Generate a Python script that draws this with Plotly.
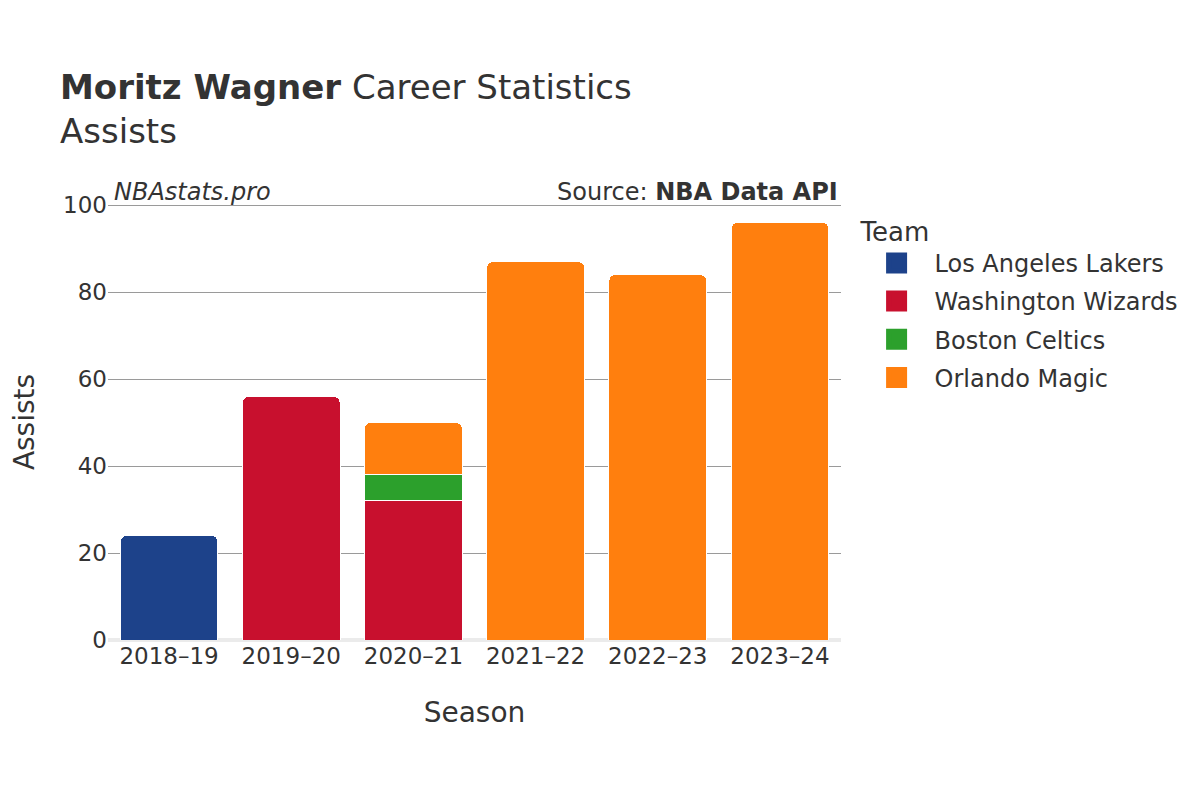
import plotly.graph_objects as go

seasons = ["2018–19", "2019–20", "2020–21", "2021–22", "2022–23", "2023–24"]
teams = ["Los Angeles Lakers", "Washington Wizards", "Boston Celtics", "Orlando Magic"]
colors = ["#1D428A", "#C8102E", "#2CA02C", "#FF7F0E"]
lakers = [24, None, None, None, None, None]
wizards = [None, 56, 32, None, None, None]
celtics = [None, None, 6, None, None, None]
magic = [None, None, 12, 87, 84, 96]
series = [lakers, wizards, celtics, magic]
y_ticks = [0, 20, 40, 60, 80, 100]

FONT = "DejaVu Sans"
TXT = "#333333"

fig = go.Figure()
for name, vals, col in zip(teams, series, colors):
    fig.add_trace(go.Bar(
        x=seasons, y=vals, name=name, marker=dict(color=col, line=dict(color="white", width=1)),
        showlegend=False, legendgroup=name,
    ))
for name, col in zip(teams, colors):
    fig.add_trace(go.Scatter(
        x=[None], y=[None], mode="markers", name=name, legendgroup=name,
        marker=dict(symbol="square", size=16, color=col, line=dict(color=col, width=5)),
    ))

fig.update_layout(
    width=1200, height=800,
    barmode="stack", bargap=0.2, barcornerradius=6,
    plot_bgcolor="white", paper_bgcolor="white",
    margin=dict(l=100, r=367, t=196, b=168),
    font=dict(family=FONT, color=TXT, size=23),
    title=dict(
        text="<b>Moritz Wagner</b> Career Statistics<br>Assists",
        x=52/1200, xanchor="left", xref="container",
        y=1-91/800, yanchor="top", yref="container",
        font=dict(family=FONT, size=34, color=TXT),
    ),
    xaxis=dict(
        title=dict(text="Season", font=dict(size=28), standoff=34),
        tickfont=dict(size=23), showgrid=False, ticks="", automargin=False,
    ),
    yaxis=dict(
        title=dict(text="Assists", font=dict(size=28), standoff=32),
        range=[0, 100.25], tickvals=y_ticks, tickfont=dict(size=23),
        showgrid=True, gridcolor="#9a9a9a", gridwidth=1,
        ticks="", automargin=False,
        zeroline=True, zerolinecolor="#ebebeb", zerolinewidth=4,
    ),
    legend=dict(
        title=dict(text="Team", font=dict(size=26)),
        font=dict(size=24), x=1.024, xanchor="left", y=1 - 3/436, yanchor="top",
        itemwidth=66, tracegroupgap=4,
    ),
    annotations=[
        dict(text="<i>NBAstats.pro</i>", xref="paper", yref="paper", x=0.005, y=1.0,
             xanchor="left", yanchor="bottom", yshift=-4, showarrow=False,
             font=dict(size=24, color=TXT)),
        dict(text="Source: <b>NBA Data API</b>", xref="paper", yref="paper", x=0.9985, y=1.0,
             xanchor="right", yanchor="bottom", yshift=-4, showarrow=False,
             font=dict(size=24, color=TXT)),
    ],
)

fig.write_html("out.html")
